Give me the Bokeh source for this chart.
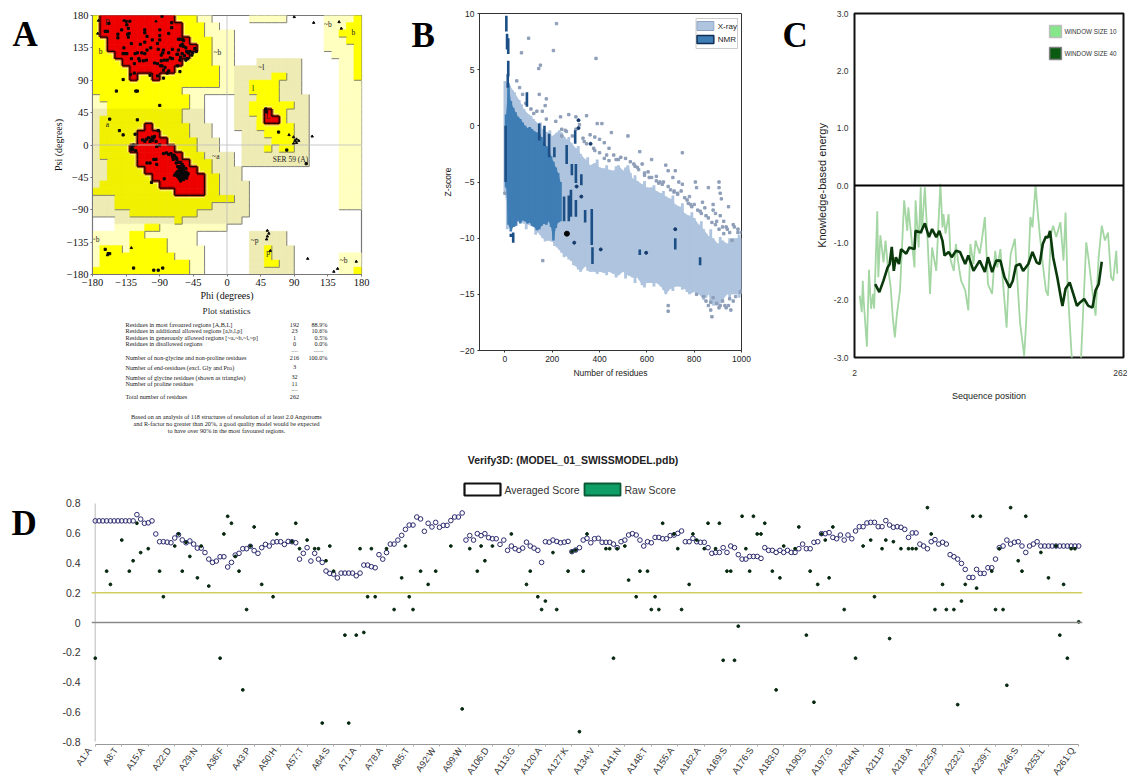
from bokeh.plotting import figure
from bokeh.models import Range1d, FixedTicker, Span
from bokeh.layouts import row, column
from bokeh.embed import file_html
from bokeh.resources import INLINE
from bokeh.core.properties import value
import math

SERIF = "Liberation Serif"
SANS = "Liberation Sans"

# ---------------- Panel A data: Ramachandran regions on a 10 degree grid (top row = psi 170..180)
rama_grid = [
    "y"+"R"*10+"yyy"+"ll"+"."*5+"l"*5+"."*5+"llll"+"y",
    "y"+"R"*11+"yyy"+"ll"+"."*14+"lll"+"yy",
    "y"+"R"*11+"yyy"+"llll"+"."*12+"ll"+"yyy",
    "yy"+"R"*11+"yyy"+"lll"+"."*12+"lll"+"yy",
    "yy"+"R"*12+"yy"+"lll"+"."*12+"llll"+"y",
    "yyy"+"R"*10+"yyy"+"lll"+"."*13+"l"+"ll"+"y",
    "yyyy"+"R"*8+"yyyy"+"lll"+"..."+"m"*6+"."*5+"ll"+"y",
    "y"*5+"R"*6+"y"*6+"ll"+"m"*9+"."*5+"ll"+"y",
    "yyyyy"+"R"+"yy"+"R"+"y"*8+"ll"+"m"*5+"yy"+"mm"+"....."+"ll"+"y",
    "y"*17+"ll"+"mm"+"yyyy"+"mmm"+"....."+"lll",
    "y"*12+"l"*7+"mm"+"yyyy"+"mmm"+"....."+"lll",
    "l"+"y"*12+"ll"+"...."+"mmm"+"yyy"+"mmmm"+"...."+"lll",
    "ll"+"y"*11+"ll"+"...."+"mm"+"y"*6+"mm"+"...."+"lll",
    "mm"+"o"*10+"mmm"+"...."+"mm"+"yy"+"R"+"yy"+"mmm"+"...."+"lll",
    "m"+"o"*11+"mmm"+"...."+"mmm"+"y"+"RR"+"y"+"mmm"+"...."+"lll",
    "m"+"o"*6+"R"+"o"*5+"mmm"+"..."+"mmm"+"y"*5+"mm"+"...."+"lll",
    "m"+"o"*5+"RRR"+"o"*4+"mmm"+"...."+"mmm"+"yyyy"+"mm"+"...."+"lll",
    "m"+"o"*5+"RRRR"+"oooo"+"mmm"+"..."+"mmmm"+"yyy"+"mm"+"...."+"lll",
    "m"+"oooo"+"R"*6+"ooo"+"mmm"+"..."+"mmm"+"y"+"m"+"yy"+"mm"+"...."+"lll",
    "m"+"ooooo"+"R"*6+"ooo"+"mmmm"+"."+"m"*9+"...."+"lll",
    "mm"+"oooo"+"R"*7+"ooo"+"mmm"+"."+"m"*9+"...."+"lll",
    "mm"+"ooooo"+"R"*7+"oo"+"mmmm"+"."*13+"lll",
    "mm"+"o"*6+"R"*7+"oo"+"mmm"+"."*13+"lll",
    "m"+"o"*8+"R"*6+"oo"+"mmmm"+"."*12+"lll",
    "o"*11+"RRRR"+"oo"+"mmmm"+"."*12+"lll",
    "mmm"+"o"*16+"mm"+"."*12+"lll",
    "mmm"+"o"*13+"m"*5+"."*12+"lll",
    "mmmmm"+"o"*9+"m"*7+"."*15,
    "..."+"m"*8+"o"+"m"*8+"."*16,
    "..."+"llll"+"yy"+"l"*9+"."*18,
    "lllll"+"yy"+"l"*7+"."*7+"m"*5+"."*10,
    "lllll"+"yyyyy"+"llll"+"."*7+"m"*5+"."*10,
    "l"+"yyy"+"l"+"yyyyy"+"lllll"+"."*6+"mm"+"y"+"mmm"+"."*9,
    "l"+"y"*10+"llll"+"."*6+"mm"+"y"+"mmm"+"."*6+"lll",
    "l"+"y"*12+"ll"+"."*6+"mm"+"yy"+"mm"+"."*6+"lll",
    "y"*13+"ll"+"."*6+"m"*6+"."*6+"ll"+"y",
]
region_colors = {"R": "#EE0000", "y": "#FFFF00", "o": "#F0F000", "l": "#FFFFC0", "m": "#EEEBB4"}
region_rank = {".": 0, "l": 1, "m": 1, "y": 2, "o": 2, "R": 3}

residue_phi = [-160,-163,-158,-146,-141,-146,-133,-134,-132,-131,-132,-128,-138,-139,-136,-134,-128,-123,-124,-120,-118,-117,-112,-114,-108,-107,-110,-116,-110,-110,-107,-110,-100,-102,-93,-92,-90,-88,-85,-86,-80,-78,-76,-73,-84,-88,-89,-83,-85,-80,-78,-97,-93,-87,-73,-65,-66,-62,-60,-63,-66,-67,-63,-65,-60,-58,-60,-62,-58,-55,-54,-52,-50,-57,-53,-55,-47,-43,-46,-41,-63,-124,-129,-139,-103,-85,-93,-74,-74,-78,-90,-90,-135,-130,-87,
               -148,-122,-120,-90,-157,-120,-144,-139,-123,-92,
               -127,-128,-126,-125,-122,-113,-110,-108,-105,-100,-98,-101,-103,-100,-97,-95,-94,-90,-85,-81,-78,-75,-72,-73,-70,-68,-72,-67,-103,-98,-95,-94,-107,-101,-84,
               -68,-65,-62,-60,-66,-63,-60,-58,-64,-61,-58,-55,-66,-63,-60,-57,-54,-52,-68,-65,-62,-59,-56,-53,-70,-66,-63,-60,-57,-54,-64,-61,-58,-62,-68,-55,-59,
               -163,-159,-157,-125,-98,-92,-86,52,53,69,80,106]
residue_psi = [158,158,169,149,160,154,154,167,162,155,150,141,135,127,127,127,120,127,113,128,120,117,117,128,118,132,127,140,143,160,151,156,146,135,141,133,152,125,132,128,118,128,121,120,118,117,110,108,104,100,103,114,113,110,133,132,126,122,127,118,110,126,147,147,147,145,140,138,137,135,130,128,130,124,120,118,125,134,128,130,102,100,98,91,97,93,96,170,163,155,160,146,172,172,179,
             75,75,75,55,36,35,20,14,15,20,
             -2,-6,-6,0,-8,7,5,8,10,11,10,8,5,6,12,5,-2,0,-12,-11,-13,-12,-14,-16,-15,-18,-20,-20,-25,-20,-20,-27,-25,-52,-47,
             -25,-24,-24,-27,-30,-30,-32,-30,-33,-35,-35,-33,-37,-37,-38,-38,-38,-40,-41,-41,-41,-41,-41,-42,-42,-44,-44,-45,-45,-46,-47,-48,-48,-50,-39,-44,-36,
             -145,-151,-151,-171,-174,-174,-171,50,46,18,-7,-26]
glycine_phi = [-173,-172,-138,-95,90,116,150,153,54,56,54,53,58,-128,108,173,148,143,83,89,93,91,93,89,96,114,-160]
glycine_psi = [155,173,173,172,178,170,171,162,-119,-123,-127,-131,-147,-143,-158,-162,-172,-176,14,11,8,6,3,2,6,12,-153]
region_labels = ["B","b","a","~b","l","~l","~a","L","~b","b","~p","p","~b","~b","SER 59 (A)"]
region_label_phi = [-160,-169,-160,-13,35,46,-15,55,135,169,37,55,-176,156,85]
region_label_psi = [170,130,28,128,78,108,-16,40,168,156,-133,-150,-131,-160,-20]
stat_rows = ["Residues in most favoured regions  [A,B,L]","Residues in additional allowed regions  [a,b,l,p]",
             "Residues in generously allowed regions  [~a,~b,~l,~p]","Residues in disallowed regions",
             "Number of non-glycine and non-proline residues","Number of end-residues (excl. Gly and Pro)",
             "Number of glycine residues (shown as triangles)","Number of proline residues","Total number of residues"]
stat_counts = ["192","23","1","0","216","3","32","11","262"]
stat_pcts = ["88.9%","10.6%","0.5%","0.0%","100.0%","","","",""]
stat_note = ["Based on an analysis of 118 structures of resolution of at least 2.0 Angstroms",
             "and R-factor no greater than 20%, a good quality model would be expected",
             "to have over 90% in the most favoured regions."]

# ---------------- Panel B data
xray_x = list(range(0, 1001, 20))
xray_high = [4,3.6,3,2.3,1.5,1,0.6,0.2,-0.3,-0.6,-0.9,-0.6,-0.6,-1.2,-1.5,-2,-2.5,-3,-3.5,-3.3,-3.7,-3.8,-3.9,-4,-3.5,-4,-3.5,-4.7,-4.9,-5.2,-5.5,-5.5,-5.8,-6,-6.3,-6.5,-7,-7.2,-7.8,-8,-8.2,-8.8,-9.2,-9.8,-10,-10.5,-10.2,-10.5,-10,-10,-10]
xray_low = [-6,-9,-9,-8.5,-8.7,-8.8,-9,-9.5,-10,-10.2,-10.3,-10.8,-11.3,-11.6,-12,-12.5,-13,-12.5,-13,-13,-13,-13.1,-13,-13.2,-13.3,-13,-13.3,-13.5,-13.5,-14.2,-14,-14,-14,-14.3,-15,-14.5,-14.3,-14.3,-14.5,-15,-14.8,-15,-15.5,-15,-16,-16,-15.5,-15,-15,-15,-15]
xray_x2 = list(range(10, 1000, 20))
xray_high2 = [3.8,3.2,2.0,1.9,1.0,0.9,0.2,0.3,-0.6,-0.4,-1.2,-0.4,-1.0,-1.0,-2.0,-1.8,-2.9,-2.8,-3.9,-3.0,-4.2,-3.5,-4.3,-3.6,-4.0,-3.7,-4.2,-4.4,-5.4,-4.9,-6.0,-5.3,-6.2,-5.8,-6.8,-6.2,-7.4,-6.9,-8.2,-7.7,-8.7,-8.5,-9.6,-9.2,-10.5,-9.9,-10.8,-10.0,-10.6,-9.7]
xray_low2 = [-9.2,-8.6,-8.9,-8.4,-9.2,-8.7,-9.7,-9.7,-10.3,-10.0,-10.7,-11.0,-11.7,-11.9,-12.4,-12.8,-12.6,-12.9,-12.7,-13.2,-12.8,-13.3,-12.8,-13.5,-13.0,-13.6,-13.1,-14.0,-13.7,-14.4,-13.7,-14.3,-13.8,-14.6,-14.2,-14.7,-14.1,-14.6,-14.8,-14.6,-15.1,-14.7,-15.3,-15.6,-15.2,-15.8,-14.8,-15.4,-14.7,-15.3]
xray_pts_x = [218,100,70,205,385,150,143,145,175,170,158,175,215,235,270,300,345,390,410,450,520,360,380,400,420,750,570,620,680,690,720,735,750,805,810,860,905,905,910,915,945,880,800,835,880,910,890,920,970,160,0,905,930,955,945,1000,690,690,875,870,860,810,
              50,62,75,88,110,122,135,240,255,285,335,375,430,470,490,545,560,590,610,640,655,665,700,715,730,770,785,825,850,895,925,940,960,985,
              850,880,895,920,950,975,995,840,870,910,935,965,
              440,460,480,510,530,550,565,580,590,605,620,640,650,670,690,710,715,730,745,760,780,775,790,815,830,845,860,875,890,905,925,935,950,965,985,1000,400,420,440,380,345,330,300,260,240,315]
xray_pts_y = [9.1,7.8,6.5,6.7,6,5.4,5.1,2.8,2.4,1.8,1.3,0.6,0.4,0.8,1,0.8,0.9,0.2,0.2,-0.6,-0.9,-0.8,-1,-1.2,-1.5,-2.4,-2.3,-3,-3.5,-4,-4,-5,-5.2,-5,-5.5,-5.5,-5,-5.5,-6,-6.5,-7.2,-7,-7,-6.8,-7.5,-8,-7.8,-9,-9,-12,-6,-16.2,-16,-16.4,-16,-14.7,-16,-16.5,-17,-16.4,-16,-15,
              4,3.4,2.8,2,1.5,1.1,1.3,-0.3,-0.4,-0.9,-1.4,-2,-2.6,-3,-2.8,-3.4,-3.7,-4.2,-4.6,-4.9,-5,-5.2,-5.7,-5.9,-6,-6.6,-7,-7.6,-8,-8.5,-9.6,-9.2,-10.2,-9.5,
              -15.6,-15.3,-15.8,-15.6,-15.4,-15.2,-14.8,-15.2,-15.7,-16,-16.2,-15.6,
              -2,-2.6,-3,-2.9,-3.2,-3.6,-3.9,-3.4,-4.4,-4.1,-4.6,-4.5,-5.1,-5,-5.4,-4.6,-5.8,-6.1,-5.8,-6.4,-6.3,-6.9,-7.2,-7.5,-7.8,-7.3,-8.2,-8.6,-8.8,-9.2,-8.5,-9,-9.5,-8.8,-9.2,-9.5,-2.4,-2.9,-3.1,-2.2,-1.6,-1.1,-0.3,-0.5,-0.9,0.1]
nmr_x = list(range(5, 240, 10))
nmr_high = [1,3.8,2.2,1.6,1.2,0.8,0.6,0.3,0,-0.2,-0.1,-0.3,-0.5,-0.6,-0.7,-1,-1.5,-1.8,-2,-2.7,-3.2,-3.7,-4.2,-5]
nmr_low = [-5.5,-8.8,-9.4,-9,-8.9,-8.4,-8.7,-8.4,-8.5,-8.7,-8.6,-8.9,-9,-9.3,-9.2,-8.9,-8.7,-8.8,-8.5,-9,-10.2,-9.1,-8.6,-8.5]
nmr_col_x = [6,9,14,14,12,25,35,93,145,167,187,209,261,297,283,300,323,279,300,339,367,370,570,720,825,250,270,3]
nmr_col_high = [9.8,8.2,7.8,5.8,4.6,-9.6,-9.5,3,0.2,0,-0.7,-1.9,-1.7,-0.4,-3.4,-3.4,-4.3,-5.7,-6.6,-7.5,-7.4,-10.8,-11,-10,-11.7,-6.3,-6.2,0]
nmr_col_low = [8.4,6.8,6.4,4.4,3.4,-9.9,-10.4,1.7,-1.3,-1.8,-2.8,-2.8,-3.4,-1.6,-4.4,-5.1,-5.3,-8.1,-8.1,-8.6,-10.6,-12.3,-11.5,-11,-12.4,-8.5,-8.5,-5]
nmr_pts_x = [311,311,362,293,405,597,720,303,323]
nmr_pts_y = [0.5,-0.2,-1.6,-10.4,-11,-11.3,-9.2,-5.4,-6.3]
query_x = [262]
query_y = [-9.6]

# ---------------- Panel C data
win10_pos = [7,9,10,11,14,16,18,20,21,24,25,27,30,32,34,37,39,41,43,46,50,53,54,58,60,61,64,66,67,70,73,75,77,81,85,87,88,90,93,95,98,100,102,105,109,112,114,117,119,123,125,128,131,135,138,140,143,149,151,153,157,160,162,166,168,172,174,177,179,181,184,187,189,192,194,197,201,204,206,208,212,216,221,226,228,233,235,238,241,244,247,250,252,255,256]
win10_val = [-1.92,-2.21,-1.66,-2.04,-2.81,-1.47,-2.15,-1.89,-2.15,-0.45,-1.6,-0.87,-1.34,-0.96,-1.37,-1.78,-2.3,-2.65,-2.24,-1.83,-0.26,-0.79,-0.38,-1.08,-1.43,-0.26,-1.08,-0.03,-0.84,-0.03,-1.08,-1.89,-1.08,-1.49,0.03,-0.73,-0.5,-0.84,-0.5,-1.31,-1.49,-1.02,-1.31,-1.66,-1.83,-2.18,-1.02,-1.37,-0.96,-1.19,-0.96,-0.55,-1.72,-1.89,-1.14,-1.43,-1.11,-2.48,-1.66,-1.19,-0.93,-1.83,-2.39,-2.97,-2.36,-0.55,-0.73,0,-0.44,-0.84,-1.37,-1.83,-1.92,-0.84,-0.7,-0.9,-0.64,-1.31,-0.47,-1.78,-3,-3.4,-3,-0.99,-1.25,-2.01,-2.27,-1.25,-0.7,-0.96,-0.82,-1.6,-1.66,-1.14,-1.54]
win40_pos = [22,26,30,34,36,38,40,42,45,47,52,55,60,61,66,70,74,77,81,84,87,89,93,96,100,104,109,112,117,123,128,131,135,139,143,147,152,155,158,162,165,170,174,178,181,184,187,189,191,194,198,202,203,206,210,214,217,220,224,228,232,235,238,241]
win40_val = [-1.72,-1.86,-1.66,-1.43,-1.37,-1.07,-1.49,-1.25,-1.37,-1.11,-1.19,-1.08,-1.11,-0.79,-0.82,-0.66,-0.9,-0.76,-0.9,-0.79,-0.96,-1.22,-1.16,-1.25,-1.14,-1.16,-1.37,-1.22,-1.49,-1.31,-1.51,-1.25,-1.51,-1.31,-1.31,-1.6,-1.78,-1.66,-1.4,-1.37,-1.49,-1.37,-1.16,-1.34,-1.37,-1.02,-0.89,-0.91,-0.79,-1.25,-1.6,-2.01,-2.1,-1.8,-1.69,-1.92,-2.1,-2.04,-1.98,-2.1,-2.13,-1.83,-1.72,-1.33]

# ---------------- Panel D data
d_tick_labels = ["A1:A","A8:T","A15:A","A22:D","A29:N","A36:F","A43:P","A50:H","A57:T","A64:S","A71:A","A78:A","A85:T","A92:W","A99:W","A106:D","A113:G","A120:A","A127:K","A134:V","A141:N","A148:T","A155:A","A162:A","A169:S","A176:S","A183:D","A190:S","A197:G","A204:N","A211:P","A218:A","A225:P","A232:V","A239:T","A246:S","A253:L","A261:Q"]
d_tick_pos = [0,7,14,21,28,35,42,49,56,63,70,77,84,91,98,105,112,119,126,133,140,147,154,161,168,175,182,189,196,203,210,217,224,231,238,245,252,260]
avg_score = [.683,.683,.683,.683,.683,.683,.683,.683,.683,.683,.683,.725,.695,.667,.67,.683,.595,.543,.543,.54,.536,.568,.59,.555,.536,.548,.527,.5,.5,.47,.426,.404,.413,.442,.442,.373,.404,.453,.465,.496,.496,.512,.483,.465,.503,.525,.514,.54,.543,.543,.525,.545,.543,.536,.426,.465,.503,.413,.465,.426,.404,.346,.33,.325,.3,.332,.332,.332,.332,.314,.332,.386,.386,.375,.368,.456,.426,.47,.527,.527,.554,.586,.626,.655,.655,.709,.696,.613,.667,.642,.673,.64,.653,.653,.685,.709,.709,.736,.554,.584,.554,.597,.584,.597,.57,.563,.563,.525,.554,.485,.514,.496,.485,.5,.54,.514,.5,.485,.404,.543,.54,.554,.545,.536,.54,.545,
             .476,.487,.503,.554,.566,.536,.563,.566,.539,.539,.539,.527,.503,.543,.554,.588,.597,.588,.554,.514,.543,.536,.572,.572,.563,.563,.584,.588,.599,.615,.543,.543,.566,.543,.539,.539,.503,.465,.471,.471,.503,.471,.514,.503,.456,.426,.426,.444,.444,.444,.431,.503,.485,.485,.471,.485,.471,.485,.471,.471,.496,.527,.496,.496,.539,.543,.597,.597,.604,.572,.563,.588,.554,.588,.563,.615,.644,.644,.669,.673,.673,.644,.644,.685,.655,.64,.644,.64,.626,.572,.602,.602,.527,.514,.496,.543,.557,.527,.539,.527,.456,.442,.426,.397,.357,.303,.303,.357,.33,.33,.368,.368,.426,.503,.514,.554,.527,.539,.543,.514,.471,.514,.527,.543,.514,.514,.514,.514,.514,.514,.514,.514,.514,.514,.514]
raw_idx = [0,3,4,7,9,10,11,12,14,17,18,21,22,23,24,25,27,28,30,33,34,35,36,37,38,39,40,41,42,44,47,48,52,53,54,56,58,59,60,61,62,63,66,67,69,70,71,72,73,74,77,79,81,82,83,84,86,88,90,94,97,99,101,102,103,105,110,114,115,117,118,119,121,122,
           125,126,127,128,129,130,135,136,137,138,140,141,143,144,146,147,148,149,150,153,154,155,157,158,159,161,162,164,165,166,167,168,169,170,171,172,173,174,175,176,177,179,180,181,182,185,186,188,189,190,191,192,193,194,195,198,201,203,205,206,208,209,210,211,213,215,216,217,220,221,222,224,225,227,228,229,230,232,233,234,237,238,239,240,241,242,244,245,246,250,252,254,255,256,257,258,259,260]
raw_val = [-.24,.345,.256,.554,.345,.415,.667,.47,.496,.345,.173,.514,.595,.345,.539,.444,.3,.514,.245,-.24,.595,.714,.667,.444,.345,-.453,.087,.514,.642,.256,.173,.595,.543,.667,.496,.554,.496,.496,-.676,.415,.514,.345,-.085,-.676,-.085,.496,-.067,.173,.496,.173,.496,.087,.3,.514,.173,.087,.345,.256,.345,.514,-.581,.496,.345,.514,.415,.514,.595,.256,.345,.173,.087,.144,.47,.087,
           .345,.476,.487,-.734,.345,.595,.496,.496,-.24,.496,.514,.285,.173,.345,.345,.087,.173,.087,.667,.595,.496,.087,.256,.595,.554,.496,.667,.496,.667,-.254,.345,.345,-.254,-.025,.714,.496,.345,.714,.595,.595,.667,.345,-.453,.3,.514,.496,.642,-.085,.345,-.536,.256,.595,.554,.3,.642,.087,-.24,.514,.554,.173,.496,.554,-.108,.543,.496,.496,.496,.496,.772,.595,.087,.256,.087,.087,-.552,.144,.256,.714,.231,.714,.345,.087,.496,.087,-.422,.772,.415,.345,.714,.471,.3,.514,-.085,.256,-.24,.496,.496,.004]


def text_panel(w, h, x0, y0):
    """An axis-free figure whose data units are the page's pixels, for texts and legend boxes."""
    f = figure(width=w, height=h, x_range=Range1d(x0, x0+w), y_range=Range1d(y0+h, y0),
               x_axis_type=None, y_axis_type=None, toolbar_location=None, output_backend="svg",
               min_border_left=0, min_border_right=0, min_border_top=0, min_border_bottom=0, frame_align=False)
    f.outline_line_color = None
    f.grid.visible = False
    return f


def put_text(f, x, y, txt, size, align="left", font=SERIF, style="normal", color="#1A1A1A"):
    f.text(x=[x], y=[y], text=[txt], text_font=value(font), text_font_size=size, text_font_style=style,
           text_align=align, text_baseline="middle", text_color=color)


# ================ Panel A
pA = figure(width=360, height=303, x_range=Range1d(-180, 180), y_range=Range1d(-180, 180),
            toolbar_location=None, output_backend="svg", frame_align=False,
            min_border_left=52, min_border_right=39, min_border_top=15, min_border_bottom=27)
pA.grid.visible = False
cells = {"low": ([], [], [], [], []), "high": ([], [], [], [], [])}
for want, key in ((("l", "m"), "low"), (("y", "o"), "low"), (("R",), "high")):
    for ri, line in enumerate(rama_grid):
        for ci, ch in enumerate(line):
            if ch in want:
                q = cells[key]
                q[0].append(-180 + ci*10); q[1].append(-170 + ci*10)
                q[2].append(180 - ri*10); q[3].append(170 - ri*10)
                q[4].append(region_colors[ch])
gx, gy, kx, ky = [], [], [], []
for ri, line in enumerate(rama_grid):
    for ci, ch in enumerate(line):
        x0, x1 = -180 + ci*10, -170 + ci*10
        y1, y0 = 180 - ri*10, 170 - ri*10
        rk = region_rank[ch]
        right = region_rank[line[ci+1]] if ci < 35 else rk
        below = region_rank[rama_grid[ri+1][ci]] if ri < 35 else rk
        left = region_rank[line[ci-1]] if ci > 0 else rk
        above = region_rank[rama_grid[ri-1][ci]] if ri > 0 else rk
        if rk == 3:
            for cond, sx, sy in [(right < 3, [x1, x1], [y0, y1]), (below < 3, [x0, x1], [y0, y0]),
                                 (left < 3, [x0, x0], [y0, y1]), (above < 3, [x0, x1], [y1, y1])]:
                if cond:
                    kx.append(sx); ky.append(sy)
        elif rk > 0:
            if right < rk:
                gx.append([x1, x1]); gy.append([y0, y1])
            if below < rk:
                gx.append([x0, x1]); gy.append([y0, y0])
lo = cells["low"]
pA.quad(left=lo[0], right=lo[1], top=lo[2], bottom=lo[3], fill_color=lo[4], line_color=lo[4], line_width=0.8)
pA.multi_line(gx, gy, line_color="#808080", line_width=1)
pA.multi_line(kx, ky, line_color="#FFFFB0", line_width=6, line_alpha=0.55)
hi = cells["high"]
pA.quad(left=hi[0], right=hi[1], top=hi[2], bottom=hi[3], fill_color=hi[4], line_color=hi[4], line_width=0.8)
pA.multi_line(kx, ky, line_color="#900000", line_width=3.5, line_alpha=0.55)
pA.multi_line(kx, ky, line_color="#200000", line_width=1.2)
pA.add_layout(Span(location=0, dimension="width", line_color="#BBBBBB", line_width=0.8))
pA.add_layout(Span(location=0, dimension="height", line_color="#BBBBBB", line_width=0.8))
pA.text(x=region_label_phi, y=region_label_psi, text=region_labels, text_font=value(SERIF),
        text_font_size="7.5px", text_align="center", text_baseline="middle", text_color="#222222")
pA.scatter(residue_phi, residue_psi, marker="square", size=2.2, color="#0A0A0A")
pA.scatter(glycine_phi, glycine_psi, marker="triangle", size=2.4, color="#0A0A0A")
ticks_a = [-180, -135, -90, -45, 0, 45, 90, 135, 180]
for ax in (pA.xaxis[0], pA.yaxis[0]):
    ax.ticker = FixedTicker(ticks=ticks_a)
    ax.major_label_text_font = SERIF
    ax.major_label_text_font_size = "10.5px"
    ax.major_label_text_color = "#111111"
    ax.axis_label_text_font = SERIF
    ax.axis_label_text_font_size = "10px"
    ax.axis_label_text_font_style = "normal"
    ax.axis_label_text_color = "#111111"
    ax.major_tick_in = 0
    ax.major_tick_out = 2
    ax.minor_tick_line_color = None
    ax.axis_line_color = "#777777"
    ax.major_tick_line_color = "#777777"
    ax.major_label_standoff = 2
pA.xaxis[0].axis_label = "Phi (degrees)"
pA.yaxis[0].axis_label = "Psi (degrees)"
pA.xaxis[0].axis_label_standoff = 1
pA.yaxis[0].axis_label_standoff = 0
pA.outline_line_color = "#777777"
pA.outline_line_width = 1.2

statsA = text_panel(360, 142, 40, 303)
put_text(statsA, 226, 310.7, "Plot statistics", "9px", "center")
row_y = [324, 330.3, 337, 343.3, 357, 366.7, 376.7, 383, 396.3]
for txt, cnt, pct, yy in zip(stat_rows, stat_counts, stat_pcts, row_y):
    put_text(statsA, 125, yy, txt, "6.2px")
    put_text(statsA, 294, yy, cnt, "6.2px", "center")
    if pct:
        put_text(statsA, 327, yy, pct, "6.2px", "right")
put_text(statsA, 294, 350.7, "----", "5px", "center")
put_text(statsA, 318, 350.7, "------", "5px", "center")
put_text(statsA, 294, 390, "----", "5px", "center")
for txt, yy in zip(stat_note, [416.3, 423, 429.7]):
    put_text(statsA, 226, yy, txt, "6.2px", "center")
letterA = text_panel(40, 445, 0, 0)
put_text(letterA, 12, 34, "A", "35px", "left", SERIF, "bold", "#000000")

# ================ Panel B
pB = figure(width=330, height=445, x_range=Range1d(-107.5, 1000), y_range=Range1d(-20, 10),
            toolbar_location=None, output_backend="svg", frame_align=False,
            min_border_left=36, min_border_right=29, min_border_top=13, min_border_bottom=95)
pB.grid.visible = False
pB.varea(x=xray_x, y1=xray_low, y2=xray_high, fill_color="#AFC4DE")
pB.quad(left=[x-6 for x in xray_x], right=[min(x+6, 1000) for x in xray_x], top=xray_high, bottom=xray_low,
        fill_color="#AFC4DE", line_color=None)
pB.quad(left=[x-6 for x in xray_x2], right=[x+6 for x in xray_x2], top=xray_high2, bottom=xray_low2,
        fill_color="#AFC4DE", line_color=None)
pB.scatter(xray_pts_x, xray_pts_y, marker="square", size=2.4, color="#8E9EB8")
pB.varea(x=nmr_x, y1=nmr_low, y2=nmr_high, fill_color="#3F7DB5")
pB.quad(left=[x-5.5 for x in nmr_x], right=[x+5.5 for x in nmr_x], top=nmr_high, bottom=nmr_low,
        fill_color="#3F7DB5", line_color=None)
pB.segment(nmr_col_x, nmr_col_low, nmr_col_x, nmr_col_high, line_color="#1C4F86", line_width=2.6)
pB.scatter(nmr_pts_x, nmr_pts_y, marker="circle", size=3, color="#143A6C")
pB.scatter(query_x, query_y, marker="circle", size=5, color="#050505")
def bx(px): return -107.5 + (px-476)*1107.5/265
def by(py): return 10 - (py-13)*30/337
pB.quad(left=[bx(695)], right=[bx(737)], top=[by(18)], bottom=[by(48)], fill_color="#FFFFFF", line_color="#CCCCCC")
pB.quad(left=[bx(696)], right=[bx(713)], top=[by(21)], bottom=[by(30)], fill_color="#AFC4DE", line_color="#8FA5C4")
pB.quad(left=[bx(696)], right=[bx(713)], top=[by(35)], bottom=[by(43)], fill_color="#3F7DB5", line_color="#102F55", line_width=1.5)
put_text(pB, bx(717), by(25.5), "X-ray", "8px", "left", SANS, "normal", "#222222")
put_text(pB, bx(717), by(39), "NMR", "8px", "left", SANS, "normal", "#222222")
ticks_by = [-20, -15, -10, -5, 0, 5, 10]
pB.yaxis[0].ticker = FixedTicker(ticks=ticks_by)
pB.yaxis[0].major_label_overrides = {v: (str(v).replace("-", "\u2212")) for v in ticks_by}
pB.xaxis[0].ticker = FixedTicker(ticks=[0, 200, 400, 600, 800, 1000])
for ax in (pB.xaxis[0], pB.yaxis[0]):
    ax.major_label_text_font = SANS
    ax.major_label_text_font_size = "8.5px"
    ax.major_label_text_color = "#222222"
    ax.axis_label_text_font = SANS
    ax.axis_label_text_font_size = "8.5px"
    ax.axis_label_text_font_style = "normal"
    ax.axis_label_text_color = "#222222"
    ax.major_tick_in = 0
    ax.major_tick_out = 2
    ax.minor_tick_line_color = None
    ax.major_label_standoff = 3
    ax.axis_line_color = "#333333"
    ax.major_tick_line_color = "#333333"
pB.xaxis[0].axis_label = "Number of residues"
pB.yaxis[0].axis_label = "Z-score"
pB.xaxis[0].axis_label_standoff = 3
pB.yaxis[0].axis_label_standoff = 4
pB.outline_line_color = "#333333"
pB.outline_line_width = 1
letterB = text_panel(40, 445, 400, 0)
put_text(letterB, 411, 35, "B", "35px", "left", SERIF, "bold", "#000000")

# ================ Panel C
pC = figure(width=315, height=445, x_range=Range1d(2, 262), y_range=Range1d(-3, 3),
            toolbar_location=None, output_backend="svg", frame_align=False,
            min_border_left=38, min_border_right=4, min_border_top=13, min_border_bottom=88)
pC.grid.visible = False
pC.line(win10_pos, win10_val, line_color="#A3D6A2", line_width=1.8)
pC.add_layout(Span(location=0, dimension="width", line_color="#000000", line_width=2))
pC.line(win40_pos, win40_val, line_color="#0A3A0C", line_width=2.6)
def cx(px): return 2 + (px-850)*260/273
def cy(py): return 3 - (py-13)*6/344
pC.quad(left=[cx(1048)], right=[cx(1060)], top=[cy(25)], bottom=[cy(37)], fill_color="#86E68A", line_color="#BDBDBD", line_width=1.5)
pC.quad(left=[cx(1048)], right=[cx(1060)], top=[cy(47)], bottom=[cy(59)], fill_color="#0B5A12", line_color="#808080", line_width=1.5)
put_text(pC, cx(1063), cy(31), "WINDOW SIZE 10", "6.3px", "left", SANS, "normal", "#333333")
put_text(pC, cx(1063), cy(53), "WINDOW SIZE 40", "6.3px", "left", SANS, "normal", "#333333")
ticks_cy = [-3, -2, -1, 0, 1, 2, 3]
pC.yaxis[0].ticker = FixedTicker(ticks=ticks_cy)
pC.yaxis[0].major_label_overrides = {v: "%.1f" % v for v in ticks_cy}
pC.xaxis[0].ticker = FixedTicker(ticks=[2, 262])
for ax in (pC.xaxis[0], pC.yaxis[0]):
    ax.major_label_text_font = SANS
    ax.major_label_text_font_size = "8.5px"
    ax.major_label_text_color = "#333333"
    ax.axis_label_text_font = SANS
    ax.axis_label_text_font_size = "9px"
    ax.axis_label_text_font_style = "normal"
    ax.axis_label_text_color = "#222222"
    ax.major_tick_in = 0
    ax.major_tick_out = 0
    ax.minor_tick_line_color = None
    ax.axis_line_color = None
pC.yaxis[0].axis_label_text_font_size = "11px"
pC.xaxis[0].major_label_standoff = 12
pC.yaxis[0].major_label_standoff = 6
pC.xaxis[0].axis_label = "Sequence position"
pC.yaxis[0].axis_label = "Knowledge-based energy"
pC.xaxis[0].axis_label_standoff = 12
pC.yaxis[0].axis_label_standoff = 3
pC.outline_line_color = "#111111"
pC.outline_line_width = 2
letterC = text_panel(42, 445, 770, 0)
put_text(letterC, 782, 35, "C", "35px", "left", SERIF, "bold", "#000000")

# ================ Panel D
stripD = text_panel(1127, 52, 0, 445)
put_text(stripD, 574, 459, "Verify3D:  (MODEL_01_SWISSMODEL.pdb)", "10.5px", "center", SANS, "bold", "#222222")
stripD.quad(left=[464], right=[500], top=[483], bottom=[495], fill_color="#FFFFFF", line_color="#111111", line_width=2.2)
put_text(stripD, 504, 489, "Averaged Score", "10.5px", "left", SANS, "normal", "#333333")
stripD.quad(left=[584], right=[620], top=[483], bottom=[495], fill_color="#0E9E66", line_color="#0B5A35", line_width=1.8)
put_text(stripD, 624, 489, "Raw Score", "10.5px", "left", SANS, "normal", "#333333")

pD = figure(width=1087, height=250, x_range=Range1d(-1, 261), y_range=Range1d(-0.82, 0.82),
            toolbar_location=None, output_backend="svg", frame_align=False,
            min_border_left=51, min_border_right=45, min_border_top=3, min_border_bottom=3)
pD.grid.visible = False
pD.outline_line_color = None
avg_x = list(range(len(avg_score)))
pD.add_layout(Span(location=0.2, dimension="width", line_color="#CFCF60", line_width=1.5))
pD.add_layout(Span(location=0, dimension="width", line_color="#8A8A8A", line_width=1.5))
pD.segment([0], [-0.8], [0], [0.8], line_color="#D0D0D0", line_width=1.5)
pD.scatter(avg_x, avg_score, marker="circle", size=4.6, fill_color="#FFFFFF", fill_alpha=0.2, line_color="#2B2A6E", line_width=1)
pD.scatter(raw_idx, raw_val, marker="circle", size=2.8, color="#06280F")
pD.yaxis[0].ticker = FixedTicker(ticks=[-0.8, -0.6, -0.4, -0.2, 0, 0.2, 0.4, 0.6, 0.8])
pD.yaxis[0].major_label_overrides = {-0.8: "-0.8", -0.6: "-0.6", -0.4: "-0.4", -0.2: "-0.2", 0: "0", 0.2: "0.2", 0.4: "0.4", 0.6: "0.6", 0.8: "0.8"}
pD.yaxis[0].axis_line_color = None
pD.yaxis[0].major_tick_line_color = None
pD.yaxis[0].major_label_text_font = SANS
pD.yaxis[0].major_label_text_font_size = "10.5px"
pD.yaxis[0].major_label_text_color = "#333333"
pD.yaxis[0].minor_tick_line_color = None
pD.yaxis[0].major_label_standoff = 5
pD.xaxis[0].ticker = FixedTicker(ticks=d_tick_pos)
pD.xaxis[0].major_label_overrides = {p_: "" for p_ in d_tick_pos}
pD.xaxis[0].major_label_text_font_size = "1px"
pD.xaxis[0].major_label_standoff = 0
pD.xaxis[0].bounds = (0, 260)
pD.xaxis[0].axis_line_color = "#999999"
pD.xaxis[0].major_tick_line_color = "#AAAAAA"
pD.xaxis[0].major_tick_in = 0
pD.xaxis[0].major_tick_out = 2
pD.xaxis[0].minor_tick_line_color = None

# tick labels of panel D: same residue scale as pD (3.782 px per residue), tilted like the reference
tickD = figure(width=1087, height=30, x_range=Range1d((40-94.8)/3.782, (1127-94.8)/3.782), y_range=Range1d(777, 747),
               x_axis_type=None, y_axis_type=None, toolbar_location=None, output_backend="svg", frame_align=False,
               min_border_left=0, min_border_right=0, min_border_top=0, min_border_bottom=0)
tickD.outline_line_color = None
tickD.grid.visible = False
tickD.text(x=[p_-1.5 for p_ in d_tick_pos], y=[748]*len(d_tick_pos), text=d_tick_labels, angle=math.radians(55),
           text_font=value(SANS), text_font_size="9.2px", text_align="right", text_baseline="middle", text_color="#333333")
letterD = text_panel(40, 280, 0, 497)
put_text(letterD, 11, 523, "D", "35px", "left", SERIF, "bold", "#000000")

top = row(letterA, column(pA, statsA, spacing=0), letterB, pB, letterC, pC, spacing=0)
bottom = column(stripD, row(letterD, column(pD, tickD, spacing=0), spacing=0), spacing=0)
layout = column(top, bottom, spacing=0)
open("out.html", "w").write(file_html(layout, INLINE))
